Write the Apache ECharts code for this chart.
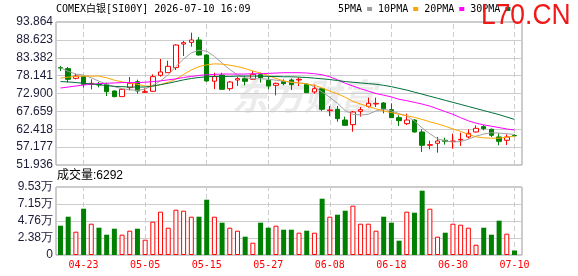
<!DOCTYPE html>
<html><head><meta charset="utf-8">
<script src="https://cdn.jsdelivr.net/npm/echarts@6/dist/echarts.min.js"></script>
<style>html,body{margin:0;padding:0;background:#fff}#c{width:578px;height:276px}</style>
</head><body><div id="c"></div>
<script>
const dates = ['04-20','04-21','04-22','04-23','04-24','04-27','04-28','04-29','04-30','05-01',
  '05-04','05-05','05-06','05-07','05-08','05-11','05-12','05-13','05-14','05-15',
  '05-18','05-19','05-20','05-21','05-22','05-25','05-26','05-27','05-28','05-29',
  '06-01','06-02','06-03','06-04','06-05','06-08','06-09','06-10','06-11','06-12',
  '06-15','06-16','06-17','06-18','06-19','06-22','06-23','06-24','06-25','06-26',
  '06-29','06-30','07-01','07-02','07-03','07-06','07-07','07-08','07-09','07-10'];
const openP = [80.45,80.19,77.35,77.84,75.69,75.59,75.49,73.64,71.98,74.61,
  76.37,73.25,73.54,78.23,79.01,80.48,87.40,87.90,88.59,84.19,
  76.50,78.30,74.32,76.86,77.25,77.06,78.42,76.76,75.30,76.37,
  76.86,76.86,75.59,73.34,74.32,67.87,68.27,65.13,63.77,67.67,
  69.14,69.82,70.12,68.16,65.82,64.06,65.13,61.62,57.71,58.30,
  59.18,58.79,59.28,60.16,61.62,63.18,62.40,60.16,59.18,60.60];
const closeP = [80.35,77.06,78.03,75.59,75.88,75.39,73.44,71.98,74.12,75.88,
  73.64,73.44,77.84,79.21,80.87,87.12,87.80,88.59,84.19,76.57,
  77.90,74.12,76.27,77.25,76.47,78.52,77.55,75.10,75.88,75.78,
  75.49,77.06,73.15,74.32,68.27,68.07,65.53,63.57,67.48,68.16,
  70.02,70.02,68.46,65.82,64.94,65.13,61.62,57.71,57.91,58.98,
  58.89,58.98,59.47,61.23,62.69,62.60,60.64,58.89,60.16,60.50];
const lowP = [79.50,76.08,77.06,74.60,74.12,74.71,72.17,71.78,71.98,73.83,
  72.85,73.15,73.44,77.84,79.01,79.79,83.90,86.63,83.99,76.37,
  74.20,73.93,73.73,75.10,75.30,76.86,76.08,74.12,72.36,75.30,
  73.93,75.10,73.05,72.85,67.77,66.31,64.65,63.47,61.71,66.11,
  68.75,68.95,67.09,65.72,63.38,63.67,61.42,55.76,56.54,55.56,
  57.91,56.74,57.52,59.67,61.42,62.10,60.16,57.71,57.81,60.40];
const highP = [80.96,80.67,78.70,78.03,77.06,76.27,76.08,73.74,74.32,77.74,
  76.96,74.42,78.52,83.02,82.53,87.32,88.30,90.74,89.47,84.38,
  79.00,79.00,76.57,77.84,78.03,79.50,79.00,77.74,76.08,77.06,
  77.35,77.55,75.88,75.49,74.60,69.24,69.24,66.11,67.77,68.95,
  71.68,71.68,70.41,70.02,66.50,66.99,65.33,62.40,59.08,60.16,
  59.96,61.13,61.42,62.40,63.57,63.67,62.60,61.23,60.93,61.00];
const volume = [41064,53677,32655,64889,43867,38261,28450,36859,28450,34056,
  36859,21443,46670,60685,38261,63488,62086,53677,53677,77503,
  53677,45268,38261,34056,25647,17238,45268,38261,41064,35458,
  35458,31253,34056,31253,78905,53677,56480,62086,69094,43867,
  43867,34056,53677,45268,20041,60685,59283,90116,64889,25647,
  31253,43867,42465,38261,14435,38261,28450,48071,29852,6292];
const ma5 = [80.4,79.4,78.6,78.3,77.5,76.5,75.6,74.9,74.3,74.0,
  73.8,74.2,75.3,76.6,78.4,80.8,83.0,84.8,85.6,85.3,
  83.8,81.8,79.9,78.4,77.5,77.2,77.2,77.1,76.8,76.5,
  76.2,76.0,75.8,74.9,73.3,71.8,70.0,67.9,66.8,66.6,
  66.8,67.8,68.3,67.8,67.0,66.3,64.8,62.8,61.1,59.6,
  59.0,58.7,58.8,59.5,60.4,61.0,61.4,61.3,61.1,60.9];
const ma10 = [77.4,77.7,77.9,78.0,78.0,78.0,77.5,76.8,76.3,76.0,
  75.6,75.1,75.0,75.5,76.2,77.1,78.5,79.8,80.8,81.3,
  81.6,81.5,81.2,80.8,80.2,79.5,78.9,78.2,77.3,76.6,
  76.2,76.0,75.7,75.3,74.5,73.6,72.8,71.8,70.6,69.8,
  69.1,68.4,67.8,67.3,66.8,66.4,65.9,65.3,64.6,64.0,
  63.3,62.5,61.8,60.9,60.2,59.9,59.8,59.8,60.1,60.4];
const ma20 = [74.5,74.8,75.1,75.4,75.6,75.8,75.9,76.0,76.1,76.1,
  76.1,76.2,76.4,76.6,76.9,77.2,77.6,77.9,78.2,78.4,
  78.5,78.6,78.6,78.6,78.6,78.7,78.7,78.8,78.9,79.0,
  79.0,79.0,78.9,78.7,78.4,77.8,76.9,75.9,75.1,74.3,
  73.6,72.9,72.4,71.9,71.2,70.8,70.3,69.8,69.2,68.4,
  67.6,66.8,65.8,64.9,64.2,63.7,63.3,62.9,62.5,62.2];
const ma30 = [76.4,76.3,76.1,75.9,75.7,75.5,75.2,75.0,74.9,74.8,
  74.8,74.8,75.1,75.5,75.9,76.4,76.9,77.3,77.6,77.8,
  77.9,77.9,77.9,78.0,78.0,78.0,78.0,77.9,77.9,77.8,
  77.8,77.7,77.6,77.4,77.2,77.0,76.7,76.4,76.2,76.0,
  75.8,75.6,75.3,74.9,74.4,73.9,73.3,72.7,72.1,71.5,
  70.9,70.3,69.7,69.1,68.5,67.9,67.3,66.7,66.0,65.3];
const priceTicks = ['51.936','57.177','62.418','67.659','72.900','78.141','83.382','88.623','93.864'];
const volTicks = ['0','2.38万','4.76万','7.15万','9.53万'];
const xLabels = ['04-23','05-05','05-15','05-27','06-08','06-18','06-30','07-10'];
const maNames = ['5PMA','10PMA','20PMA','30PMA'];
const titleText = 'COMEX白银[SI00Y] 2026-07-10 16:09';
const volTitle = '成交量:6292';

const UP = '#ff0000', DOWN = '#008000';
const candle = dates.map((d,i)=>[openP[i], closeP[i], lowP[i], highP[i]]);
const volData = volume.map((v,i)=> closeP[i] >= openP[i]
  ? {value: v, itemStyle: {color:'#ffffff', borderColor: UP, borderWidth: 1}}
  : {value: v, itemStyle: {color: DOWN}});
const pMin = parseFloat(priceTicks[0]), pMax = parseFloat(priceTicks[priceTicks.length-1]);
const vMax = parseFloat(volTicks[volTicks.length-1]) * 10000;

const lblColor = '#1c1c3a';
const lblFont = {fontFamily: 'Liberation Sans', fontSize: 12, color: lblColor};
const mono = '"DejaVu Sans Mono","Noto Sans CJK SC"';
const dashLine = {color: '#cccccc', type: [5, 3], width: 1};

const chart = echarts.init(document.getElementById('c'), null, {renderer: 'canvas'});
chart.setOption({
  animation: false,
  backgroundColor: '#ffffff',
  legend: {
    data: maNames, left: 338, top: 4, icon: 'rect', itemWidth: 5, itemHeight: 4,
    align: 'right', itemGap: 6, padding: 0, selectedMode: false,
    textStyle: {fontFamily: mono, fontSize: 10, color: '#000'}
  },
  grid: [
    {left: 56, top: 22, width: 466, height: 143, show: true, borderColor: '#999', borderWidth: 1, backgroundColor: 'transparent'},
    {left: 56, top: 187, width: 466, height: 68, show: true, borderColor: '#999', borderWidth: 1, backgroundColor: 'transparent'},
    {left: 56.65, top: 22, width: 461.7, height: 143},
    {left: 56.65, top: 187, width: 461.7, height: 68}
  ],
  xAxis: [
    {type: 'value', gridIndex: 0, min: 0, max: 1, show: false},
    {type: 'value', gridIndex: 1, min: 0, max: 1, show: false},
    {type: 'category', gridIndex: 2, data: dates, boundaryGap: true, show: false},
    {type: 'category', gridIndex: 3, data: dates, boundaryGap: true,
      axisLine: {show: false}, axisTick: {show: false}, splitLine: {show: false},
      axisLabel: {show: true, margin: 5, color: '#ff0000', fontFamily: mono, fontSize: 10,
        interval: (idx, val) => xLabels.indexOf(val) >= 0}}
  ],
  yAxis: [
    {type: 'value', gridIndex: 0, min: 0, max: priceTicks.length - 1, interval: 1,
      axisLine: {show: false}, axisTick: {show: false},
      axisLabel: Object.assign({margin: 3, formatter: v => priceTicks[Math.round(v)]}, lblFont),
      splitLine: {lineStyle: {color: '#cccccc', width: 1}}},
    {type: 'value', gridIndex: 1, min: 0, max: volTicks.length - 1, interval: 1,
      axisLine: {show: false}, axisTick: {show: false},
      axisLabel: Object.assign({margin: 3, formatter: v => volTicks[Math.round(v)]}, lblFont),
      splitLine: {lineStyle: {color: '#cccccc', width: 1}}},
    {type: 'value', gridIndex: 2, min: pMin, max: pMax, show: false},
    {type: 'value', gridIndex: 3, min: 0, max: vMax, show: false}
  ],
  series: [
    {type: 'line', xAxisIndex: 2, yAxisIndex: 2, data: [], silent: true, z: 0, zlevel: 0,
      markLine: {silent: true, symbol: 'none', label: {show: false}, lineStyle: dashLine, z: 0,
        data: xLabels.map(d => ({xAxis: d}))}},
    {type: 'line', xAxisIndex: 3, yAxisIndex: 3, data: [], silent: true, z: 0, zlevel: 0,
      markLine: {silent: true, symbol: 'none', label: {show: false}, lineStyle: dashLine, z: 0,
        data: xLabels.map(d => ({xAxis: d}))}},
    {type: 'candlestick', xAxisIndex: 2, yAxisIndex: 2, data: candle, barWidth: 5, z: 3,
      itemStyle: {color: '#ffffff', color0: DOWN, borderColor: UP, borderColor0: DOWN, borderWidth: 1}},
    {name: maNames[0], type: 'line', xAxisIndex: 2, yAxisIndex: 2, data: ma5, showSymbol: false, z: 4,
      color: '#a0a0a0', lineStyle: {width: 1, color: '#a0a0a0'}},
    {name: maNames[1], type: 'line', xAxisIndex: 2, yAxisIndex: 2, data: ma10, showSymbol: false, z: 4,
      color: '#ffa500', lineStyle: {width: 1, color: '#ffa500'}},
    {name: maNames[2], type: 'line', xAxisIndex: 2, yAxisIndex: 2, data: ma20, showSymbol: false, z: 4,
      color: '#ff00ff', lineStyle: {width: 1, color: '#ff00ff'}},
    {name: maNames[3], type: 'line', xAxisIndex: 2, yAxisIndex: 2, data: ma30, showSymbol: false, z: 4,
      color: '#00703a', lineStyle: {width: 1, color: '#00703a'}},
    {type: 'bar', xAxisIndex: 3, yAxisIndex: 3, data: volData, barWidth: 5, z: 3}
  ],
  graphic: [
    {type: 'text', left: 232, top: 78, z: -10, silent: true,
      style: {text: '东方财富', fill: '#ebebeb', font: 'italic bold 36px "Noto Sans CJK SC"'}},
    {type: 'text', left: 56, top: 4, style: {text: titleText, fill: '#000', font: '10px ' + mono}},
    {type: 'text', left: 57, top: 170, style: {text: volTitle, fill: '#000', font: '12px "Liberation Sans","Noto Sans CJK SC"'}},
    {type: 'text', left: 481, top: 1, scaleX: 0.88, z: 100,
      style: {text: 'L70.CN', fill: '#f01818', font: '30px "Liberation Sans"'}}
  ]
});
</script></body></html>
